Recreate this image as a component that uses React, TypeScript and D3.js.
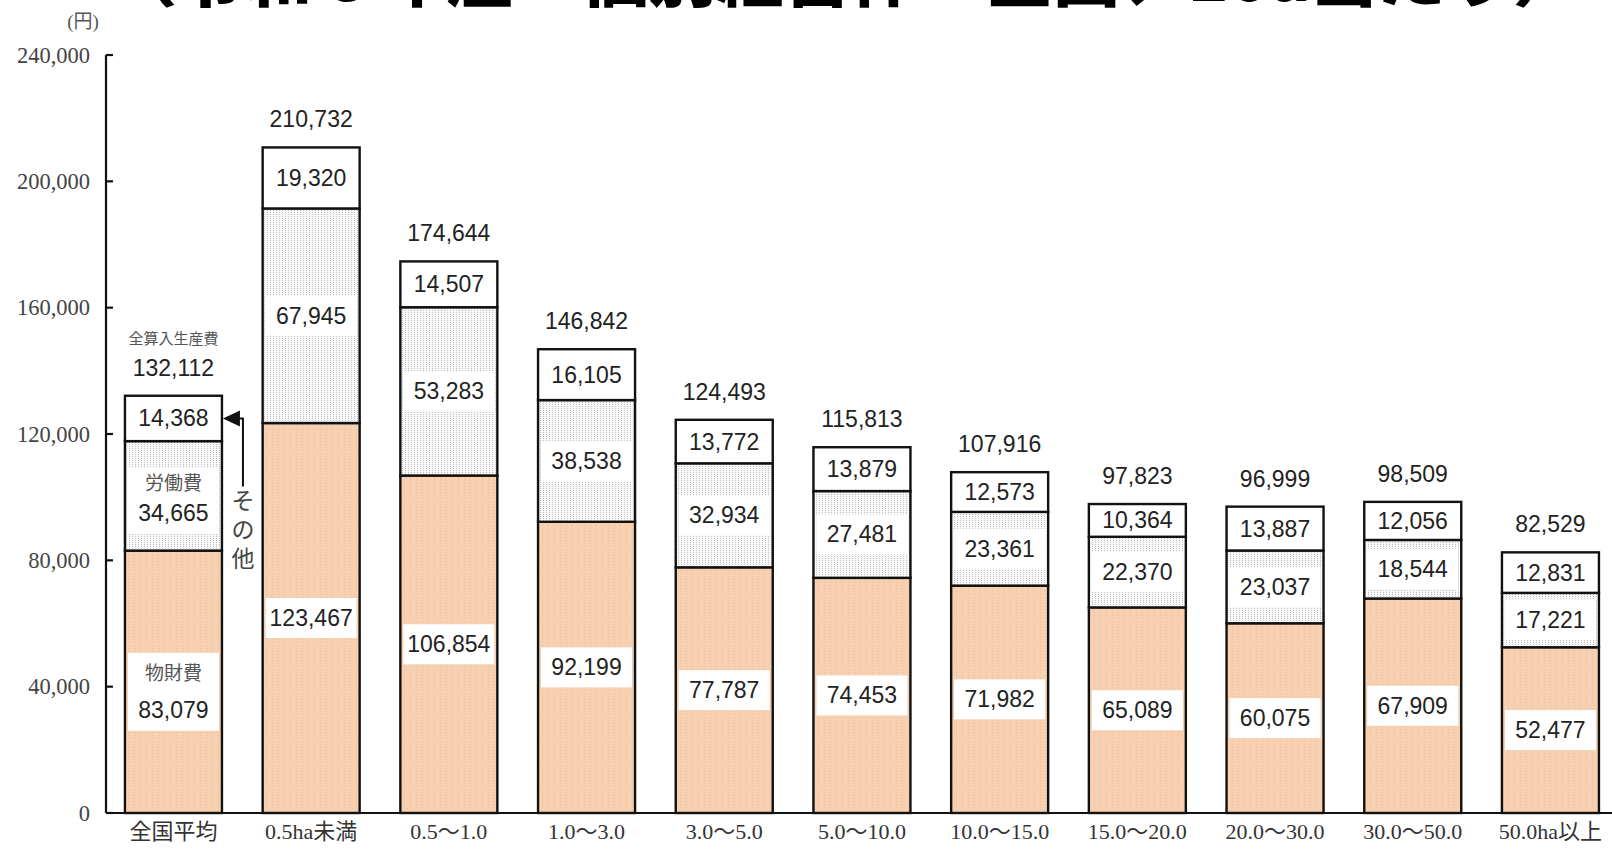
import React from "react";
import * as d3 from "d3";

// 10a当たり全算入生産費（円）
const categories = [
  "全国平均",
  "0.5ha未満",
  "0.5～1.0",
  "1.0～3.0",
  "3.0～5.0",
  "5.0～10.0",
  "10.0～15.0",
  "15.0～20.0",
  "20.0～30.0",
  "30.0～50.0",
  "50.0ha以上",
];
const materialCost = [83079, 123467, 106854, 92199, 77787, 74453, 71982, 65089, 60075, 67909, 52477];
const laborCost = [34665, 67945, 53283, 38538, 32934, 27481, 23361, 22370, 23037, 18544, 17221];
const otherCost = [14368, 19320, 14507, 16105, 13772, 13879, 12573, 10364, 13887, 12056, 12831];
const totalCost = [132112, 210732, 174644, 146842, 124493, 115813, 107916, 97823, 96999, 98509, 82529];
const yTicks = [0, 40000, 80000, 120000, 160000, 200000, 240000];
const keys = ["material", "labor", "other"];
const keyNames: Record<string, string> = { material: "物財費", labor: "労働費", other: "その他" };

const W = 1612;
const H = 858;

const SANS = "'Liberation Sans', Arial, 'Noto Sans CJK JP', sans-serif";
const SERIF = "'Liberation Serif', 'Times New Roman', 'Noto Sans CJK JP', serif";

const x = d3
  .scaleBand<string>()
  .domain(categories)
  .range([104.6, 1619.3])
  .paddingInner(0.2956)
  .paddingOuter(0.1478);
const y = d3.scaleLinear().domain([0, 240000]).range([813, 55]);
const fmt = d3.format(",");

const rows = categories.map((c, i) => ({
  cat: c,
  material: materialCost[i],
  labor: laborCost[i],
  other: otherCost[i],
}));
const series = d3.stack<any>().keys(keys)(rows);

const fills: Record<string, string> = {
  material: "url(#pMat)",
  labor: "url(#pLab)",
  other: "#ffffff",
};

export default function App() {
  const bw = x.bandwidth();
  const first = categories[0];
  const otherSeg = series[2][0];
  const yArrow = (y(otherSeg[0]) + y(otherSeg[1])) / 2;
  const xArrow = (x(first) as number) + bw;

  return (
    <div>
      <style>{`body{margin:0}`}</style>
      <svg width={W} height={H} style={{ display: "block", background: "#fff" }}>
        <defs>
          <pattern id="pMat" width={6} height={3} patternUnits="userSpaceOnUse">
            <rect width={6} height={3} fill="#f6d0b0" />
            <rect x={2} y={0} width={1} height={1} fill="#e8bd98" />
          </pattern>
          <pattern id="pLab" width={3} height={2} patternUnits="userSpaceOnUse">
            <rect width={3} height={2} fill="#f8f8f8" />
            <rect x={0} y={0} width={1} height={1} fill="#c0c0c0" />
          </pattern>
        </defs>

        {/* title (cut off at the top) */}
        <text
          x={110}
          y={1}
          fontFamily="'Noto Sans CJK JP', sans-serif"
          fontWeight={900}
          fontSize={64}
          textLength={1470}
          lengthAdjust="spacingAndGlyphs"
          fill="#000"
        >
          （令和６年産　個別経営体　全国、10a当たり）
        </text>

        {/* unit */}
        <text x={83} y={21} textAnchor="middle" dominantBaseline="central" fontFamily={SERIF} fontSize={19} fill="#555">
          (円)
        </text>

        {/* y axis */}
        <line x1={106} x2={106} y1={y(240000)} y2={y(0)} stroke="#111" strokeWidth={2.2} />
        {yTicks.map((t) => (
          <g key={t}>
            <line x1={106} x2={113} y1={y(t)} y2={y(t)} stroke="#111" strokeWidth={2.2} />
            <text
              x={90}
              y={y(t)}
              textAnchor="end"
              dominantBaseline="central"
              fontFamily={SERIF}
              fontSize={22.5}
              fill="#444"
            >
              {fmt(t)}
            </text>
          </g>
        ))}

        {/* bars */}
        {series.map((s) =>
          s.map((d, i) => (
            <rect
              key={s.key + i}
              x={x(categories[i])}
              y={y(d[1])}
              width={bw}
              height={y(d[0]) - y(d[1])}
              fill={fills[s.key]}
              stroke="#111"
              strokeWidth={2.4}
            />
          ))
        )}

        {/* baseline */}
        <line x1={106} x2={W} y1={y(0)} y2={y(0)} stroke="#111" strokeWidth={2.2} />

        {/* segment labels */}
        {series.map((s) =>
          s.map((d, i) => {
            const mid = (y(d[0]) + y(d[1])) / 2;
            const cx = (x(categories[i]) as number) + bw / 2;
            const withName = i === 0 && s.key !== "other";
            const boxTop = withName ? (s.key === "material" ? mid - 29 : mid - 28) : mid - 20;
            const boxH = withName ? (s.key === "material" ? 78 : 66) : 40;
            const nameY = s.key === "material" ? mid - 8 : mid - 12;
            const valY = withName ? (s.key === "material" ? mid + 28 : mid + 17) : mid;
            return (
              <g key={"l" + s.key + i}>
                {s.key !== "other" && (
                  <rect x={(x(categories[i]) as number) + 3} y={boxTop} width={bw - 6} height={boxH} fill="#fff" />
                )}
                {withName && (
                  <text
                    x={cx}
                    y={nameY}
                    textAnchor="middle"
                    dominantBaseline="central"
                    fontFamily={SERIF}
                    fontSize={19}
                    fill="#555"
                  >
                    {keyNames[s.key]}
                  </text>
                )}
                <text
                  x={cx}
                  y={valY}
                  textAnchor="middle"
                  dominantBaseline="central"
                  fontFamily={SANS}
                  fontSize={23}
                  fill="#222"
                >
                  {fmt(d[1] - d[0])}
                </text>
              </g>
            );
          })
        )}

        {/* totals */}
        {totalCost.map((t, i) => {
          const cx = (x(categories[i]) as number) + bw / 2;
          return (
            <g key={"t" + i}>
              {i === 0 && (
                <text
                  x={cx}
                  y={y(t) - 57}
                  textAnchor="middle"
                  dominantBaseline="central"
                  fontFamily={SERIF}
                  fontSize={15}
                  fill="#555"
                >
                  全算入生産費
                </text>
              )}
              <text
                x={cx}
                y={y(t) - 28}
                textAnchor="middle"
                dominantBaseline="central"
                fontFamily={SANS}
                fontSize={23}
                fill="#222"
              >
                {fmt(t)}
              </text>
            </g>
          );
        })}

        {/* その他 annotation arrow */}
        <path
          d={`M${xArrow + 1},${yArrow} L${xArrow + 18},${yArrow - 8} L${xArrow + 18},${yArrow + 8} Z`}
          fill="#111"
        />
        <path
          d={`M${xArrow + 16},${yArrow} H${xArrow + 21} V${yArrow + 68}`}
          fill="none"
          stroke="#111"
          strokeWidth={2}
        />
        {["そ", "の", "他"].map((ch, k) => (
          <text
            key={ch}
            x={xArrow + 21}
            y={yArrow + 83 + k * 29}
            textAnchor="middle"
            dominantBaseline="central"
            fontFamily={SERIF}
            fontSize={23}
            fill="#444"
          >
            {ch}
          </text>
        ))}

        {/* category labels */}
        {categories.map((c) => (
          <text
            key={c}
            x={(x(c) as number) + bw / 2}
            y={831}
            textAnchor="middle"
            dominantBaseline="central"
            fontFamily={SERIF}
            fontSize={22}
            fill="#333"
          >
            {c}
          </text>
        ))}
      </svg>
    </div>
  );
}
